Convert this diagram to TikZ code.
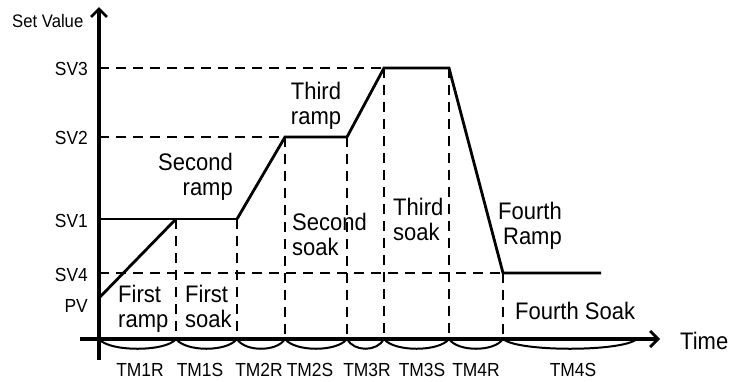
\documentclass[tikz,border=0pt]{standalone}
\usepackage{fontspec}
\setmainfont{Liberation Sans}[FakeStretch=0.92]
\usetikzlibrary{arrows.meta}
\begin{document}
\begin{tikzpicture}[x=1bp,y=-1bp,
  axis/.style={line width=3.2bp,-{Straight Barb[length=8bp,width=16bp,line width=2.8bp]}},
  profile/.style={line width=2.8bp,line join=miter},
  guide/.style={line width=2.8bp,dash pattern=on 10bp off 7bp},
  period/.style={line width=2bp},
  big/.style={font=\fontsize{24}{25}\selectfont,inner sep=0pt},
  small/.style={font=\fontsize{19}{20}\selectfont,inner sep=0pt}]
\useasboundingbox[fill=white] (0,0) rectangle (737,381);
% axis and levels
\coordinate (yb) at (99,360);
\coordinate (yt) at (99,7);
\coordinate (xl) at (80,339);
\coordinate (xr) at (660,339);
\coordinate (O) at (99,339);
\coordinate (L3) at (99,68);
\coordinate (L2) at (99,137);
\coordinate (L1) at (99,219);
\coordinate (L4) at (99,273);
\coordinate (PV) at (99,298);
% profile points
\coordinate (P1) at (176,219);
\coordinate (P2) at (237,219);
\coordinate (P3) at (285,137);
\coordinate (P4) at (347,137);
\coordinate (P5) at (384,68);
\coordinate (P6) at (449,68);
\coordinate (P7) at (503,273);
\coordinate (P8) at (601,273);
% time axis points
\coordinate (B1) at (176,339);
\coordinate (B2) at (237,339);
\coordinate (B3) at (285,339);
\coordinate (B4) at (347,339);
\coordinate (B5) at (384,339);
\coordinate (B6) at (449,339);
\coordinate (B7) at (503,339);
\coordinate (B8) at (637,339);
% dashed guides
\draw[guide] (L3) -- (P5);
\draw[guide] (L2) -- (P3);
\draw[guide] (L4) -- (P7);
\foreach \i in {1,...,7} {\draw[guide] (P\i) -- (B\i);}
% period arcs
\draw[period] (O) .. controls +(10,13) and +(-10,13) .. (B1);
\draw[period] (B1) .. controls +(10,13) and +(-10,13) .. (B2);
\draw[period] (B2) .. controls +(8,13) and +(-8,13) .. (B3);
\draw[period] (B3) .. controls +(10,13) and +(-10,13) .. (B4);
\draw[period] (B4) .. controls +(7,13) and +(-7,13) .. (B5);
\draw[period] (B5) .. controls +(10,13) and +(-10,13) .. (B6);
\draw[period] (B6) .. controls +(9,13) and +(-9,13) .. (B7);
\draw[period] (B7) .. controls +(15,13) and +(-15,13) .. (B8);
% profile
\draw[profile] (L1) -- (P2);
\draw[profile] (PV) -- (P1);
\draw[profile] (P2) -- (P3) -- (P4) -- (P5) -- (P6) -- (P7) -- (P8);
% axes
\draw[axis] (yb) -- (yt);
\draw[axis] (xl) -- (xr);
% axis labels
\node[small,font=\fontsize{18.2}{20}\selectfont,anchor=base west] (setv) at (12,27) {Set Value};
\node[big,anchor=base west] (time) at (680,349) {Time};
\node[small,anchor=base east] (sv3) at (88,75) {SV3};
\node[small,anchor=base east] (sv2) at (88,144) {SV2};
\node[small,anchor=base east] (sv1) at (88,227) {SV1};
\node[small,anchor=base east] (sv4) at (88,281) {SV4};
\node[small,anchor=base east] (pv) at (88,312) {PV};
% period labels
\node[small,anchor=base] (tm1r) at (140,376) {TM1R};
\node[small,anchor=base] (tm1s) at (200,376) {TM1S};
\node[small,anchor=base] (tm2r) at (259,376) {TM2R};
\node[small,anchor=base] (tm2s) at (310,376) {TM2S};
\node[small,anchor=base] (tm3r) at (367,376) {TM3R};
\node[small,anchor=base] (tm3s) at (422,376) {TM3S};
\node[small,anchor=base] (tm4r) at (476,376) {TM4R};
\node[small,anchor=base] (tm4s) at (573,376) {TM4S};
% segment labels
\node[big,anchor=north west,align=left] (r1) at (118,285) {First\\ramp};
\node[big,anchor=north west,align=left] (s1) at (185,285) {First\\soak};
\node[big,anchor=north east,align=right] (r2) at (233,153) {Second\\ramp};
\node[big,anchor=north west,align=left] (s2) at (292,213) {Second\\soak};
\node[big,anchor=north,align=center] (r3) at (316,82) {Third\\ramp};
\node[big,anchor=north west,align=left] (s3) at (393,198) {Third\\soak};
\node[big,anchor=north east,align=right] (r4) at (562,202) {Fourth\\Ramp};
\node[big,anchor=base west] (s4) at (515,319) {Fourth Soak};
\end{tikzpicture}
\end{document}
